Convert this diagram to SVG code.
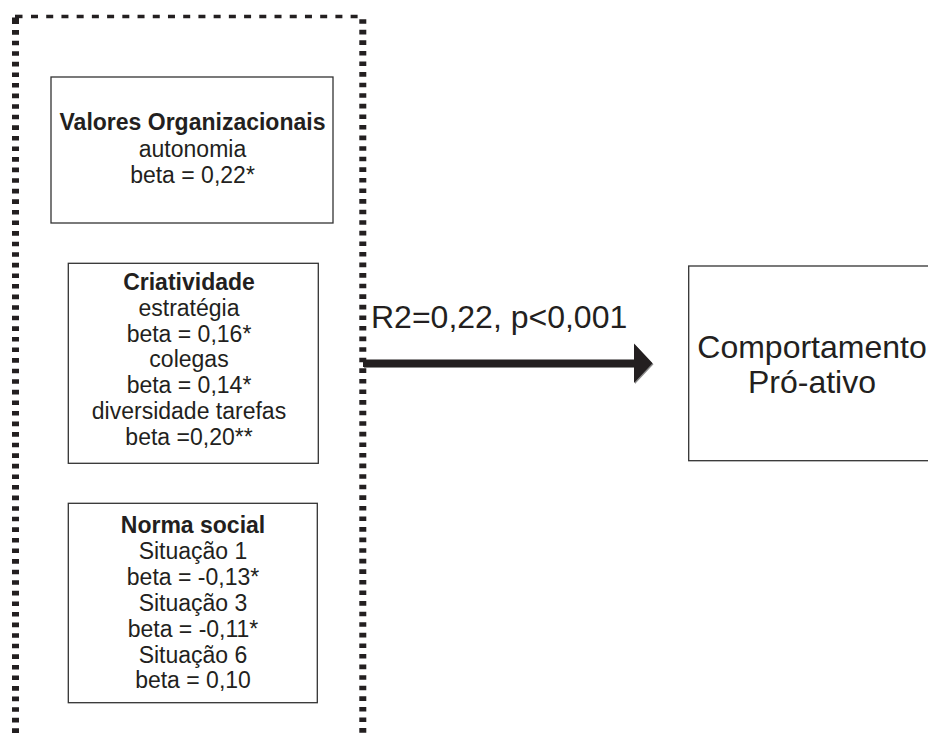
<svg xmlns="http://www.w3.org/2000/svg" width="928" height="733" viewBox="0 0 928 733">
  <style>
    .box { fill: #ffffff; stroke: #333333; stroke-width: 1.3; }
    .t { font-family: "Liberation Sans", Arial, sans-serif; font-size: 23px; fill: #231f20; text-anchor: middle; }
    .b { font-weight: bold; }
    .big { font-family: "Liberation Sans", Arial, sans-serif; font-size: 32px; fill: #231f20; }
    .dash { fill: none; stroke: #231f20; }
  </style>
  <rect width="928" height="733" fill="#ffffff"/>

  <!-- dashed grouping frame (open at the bottom) -->
  <g id="frame">
    <line class="dash" x1="31" y1="16.4" x2="360" y2="16.4" stroke-width="3.5" stroke-dasharray="7 8.22"/>
    <line class="dash" x1="15.5" y1="19.5" x2="15.5" y2="745" stroke-width="7" stroke-dasharray="4.6 5.98"/>
    <line class="dash" x1="362.8" y1="19.2" x2="362.8" y2="745" stroke-width="7" stroke-dasharray="4.6 5.98"/>
    <rect x="15" y="14.7" width="7.5" height="3.5" fill="#231f20"/>
    <rect x="12" y="17.5" width="7" height="6" fill="#231f20"/>
  </g>

  <g id="valores">
    <rect class="box" x="51" y="77" width="282" height="146"/>
    <text class="t b" x="192.5" y="130">Valores Organizacionais</text>
    <text class="t" x="192.5" y="156.5">autonomia</text>
    <text class="t" x="192.5" y="182.7">beta = 0,22*</text>
  </g>

  <g id="criatividade">
    <rect class="box" x="68.3" y="263.3" width="250" height="200"/>
    <text class="t b" x="189" y="290">Criatividade</text>
    <text class="t" x="189" y="315.7">estratégia</text>
    <text class="t" x="189" y="341.7">beta = 0,16*</text>
    <text class="t" x="189" y="367.3">colegas</text>
    <text class="t" x="189" y="393.3">beta = 0,14*</text>
    <text class="t" x="189" y="419.3">diversidade tarefas</text>
    <text class="t" x="189" y="445">beta =0,20**</text>
  </g>

  <g id="norma">
    <rect class="box" x="68.3" y="503.3" width="249" height="199.4"/>
    <text class="t b" x="193" y="533.3">Norma social</text>
    <text class="t" x="193" y="559.3">Situação 1</text>
    <text class="t" x="193" y="585">beta = -0,13*</text>
    <text class="t" x="193" y="611">Situação 3</text>
    <text class="t" x="193" y="636.7">beta = -0,11*</text>
    <text class="t" x="193" y="662.7">Situação 6</text>
    <text class="t" x="193" y="688.3">beta = 0,10</text>
  </g>

  <g id="comportamento">
    <rect class="box" x="688.7" y="266" width="247" height="194.7"/>
    <text class="big" x="812" y="358" text-anchor="middle">Comportamento</text>
    <text class="big" x="812" y="393" text-anchor="middle">Pró-ativo</text>
  </g>

  <g id="connectors">
    <text class="big" x="371" y="328.3">R2=0,22, p&lt;0,001</text>
    <path d="M363 359.5 H634 V343.5 L652.5 363.2 L634 383 V367 H363 Z" fill="#8a8a8a" transform="translate(1,1)"/>
    <path d="M363 359.5 H634 V343.5 L652.5 363.2 L634 383 V367 H363 Z" fill="#231f20"/>
  </g>
</svg>
